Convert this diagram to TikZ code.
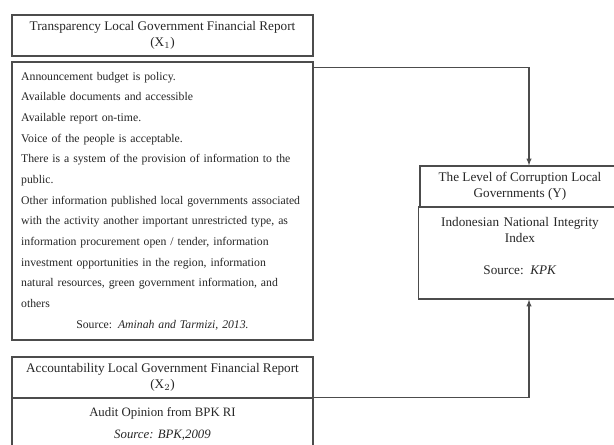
\documentclass[tikz,border=0pt]{standalone}
\usepackage{fontspec}
\setmainfont{Liberation Serif}
\usepackage{tikz}

\begin{document}
\begin{tikzpicture}[x = 0.75pt, y = -0.75pt, line width = 0.8pt, >=latex,
                    headbox/.style = {draw = black!70, text = black!85, minimum width = 225.75pt, minimum height = 30.75pt,
                                      align = center, font = \fontsize{9.9}{12}\selectfont},
                    bodybox/.style = {draw = black!70, text = black!85, minimum width = 225.75pt,
                                      font = \fontsize{8.8}{15.5}\selectfont}]

\useasboundingbox (0,0) rectangle (614,445);
\clip (0,0) rectangle (614,445);
\fill[white] (0,0) rectangle (614,445);

% transparency
\node [headbox] (Thead) at (162.5,35.5) {Transparency Local Government Financial Report\\ (X$_1$)};
\node [bodybox, minimum height = 208.5pt, text width = 212pt, align = left] (Tbody) at (162.5,201)
  {Announcement budget is policy.\\
   Available documents and accessible\\
   Available report on-time.\\
   Voice of the people is acceptable.\\
   There is a system of the provision of information to the\\
   public.\\
   Other information published local governments associated\\
   with the activity another important unrestricted type, as\\
   information procurement open / tender, information\\
   investment opportunities in the region, information\\
   natural resources, green government information, and\\
   others\par
   {\centering Source: \textit{Aminah and Tarmizi, 2013.}\par}};

% accountability
\node [headbox] (Ahead) at (162.5,377.5) {Accountability Local Government Financial Report\\ (X$_2$)};
\node [bodybox, minimum height = 39pt, align = center, font = \fontsize{9.6}{16.5}\selectfont] (Abody) at (162.5,424)
  {Audit Opinion from BPK RI\\ \textit{Source: BPK,2009}};

% corruption
\node [headbox, minimum width = 150pt] (Yhead) at (520,186.5)
  {The Level of Corruption Local\\ Governments (Y)};
\node [bodybox, minimum width = 150pt, minimum height = 69pt, text width = 145pt, align = center,
       font = \fontsize{9.9}{12}\selectfont] (Ybody) at (520,253)
  {Indonesian National Integrity\\ Index\\[12pt] Source: \textit{KPK}\par\vspace{11pt}};

\draw[->, black!70] ([yshift=-4.5pt]Tbody.north east) -| ([xshift=6.75pt]Yhead.north);
\draw[->, black!70] (Abody.north east) -| ([xshift=6.75pt]Ybody.south);
\end{tikzpicture}
\end{document}
